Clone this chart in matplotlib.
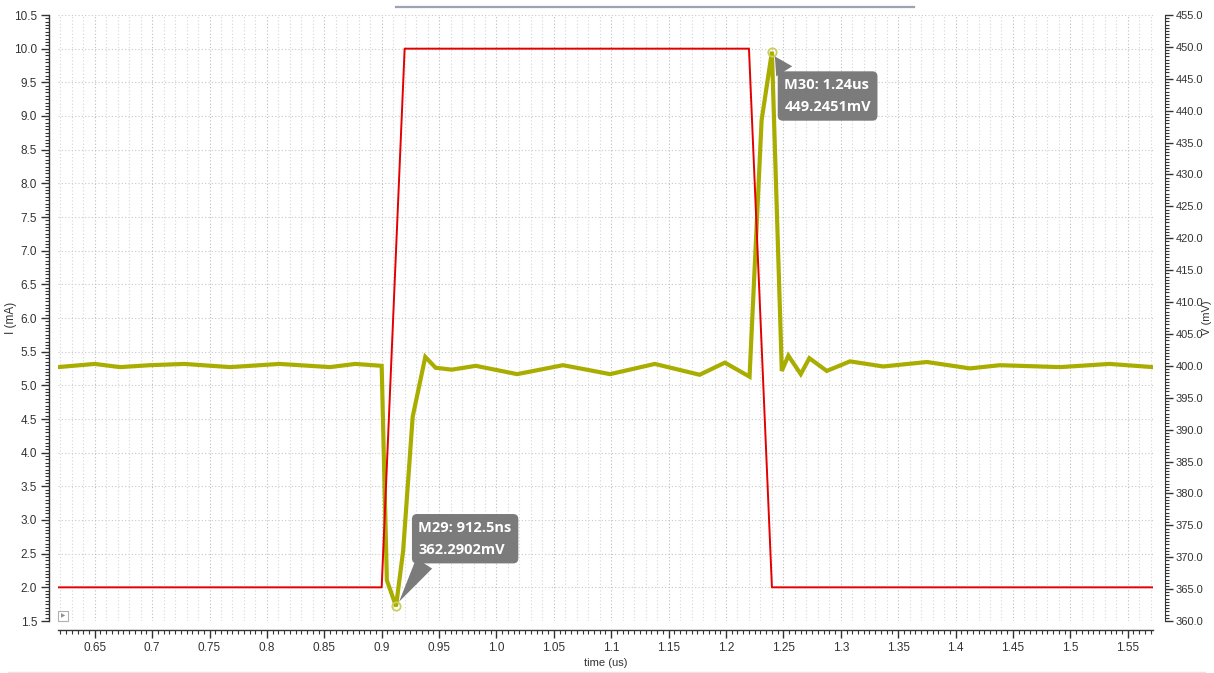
import matplotlib
matplotlib.use("Agg")
import matplotlib.pyplot as plt
import matplotlib.ticker as mticker
from matplotlib.lines import Line2D
from matplotlib.patches import Rectangle

plt.rcParams['font.family'] = ['Liberation Sans', 'DejaVu Sans']

# current pulse (mA) vs time (us)
t_current = [0.618, 0.900, 0.920, 1.220, 1.240, 1.572]
i_ma = [2.0, 2.0, 10.0, 10.0, 2.0, 2.0]

# voltage (mV) vs time (us)
t_voltage = [0.618, 0.650, 0.672, 0.698, 0.728, 0.768, 0.811, 0.855, 0.877, 0.900,
             0.9045, 0.9125, 0.9187, 0.927, 0.938, 0.947, 0.961, 0.982, 1.018, 1.058,
             1.099, 1.138, 1.177, 1.199, 1.2205, 1.231, 1.240, 1.2486, 1.2543, 1.2651,
             1.2726, 1.2878, 1.308, 1.337, 1.375, 1.4125, 1.4386, 1.491, 1.534, 1.572]
v_mv = [399.8, 400.3, 399.8, 400.1, 400.3, 399.8, 400.3, 399.8, 400.3, 400.0,
        366.4, 362.2902, 371.0, 392.0, 401.4, 399.7, 399.4, 400.0, 398.7, 400.1,
        398.7, 400.3, 398.6, 400.5, 398.3, 438.5, 449.2451, 399.2, 401.6, 398.7,
        401.2, 399.2, 400.7, 399.9, 400.6, 399.6, 400.1, 399.8, 400.3, 399.8]

# markers
marker_t = [0.9125, 1.24]
marker_v = [362.2902, 449.2451]
marker_text = ['M29: 912.5ns\n362.2902mV', 'M30: 1.24us\n449.2451mV']
marker_box_pos = [(0.9727, 372.9), (1.2885, 442.3)]
marker_relpos = [(0.12, 0.05), (0.06, 0.95)]

W, H = 1214, 673
fig = plt.figure(figsize=(W / 100, H / 100), dpi=100)
ax = fig.add_axes([58 / W, 1 - 621 / H, (1153 - 58) / W, (621 - 15) / H])
ax2 = ax.twinx()

tick_col = '#333333'
grid_col = '#c8c8c8'

# current axis (left)
ax.set_xlim(0.618, 1.572)
ax.set_ylim(1.5, 10.5)
ax.xaxis.set_major_locator(mticker.MultipleLocator(0.05))
ax.xaxis.set_minor_locator(mticker.MultipleLocator(0.005))
ax.yaxis.set_major_locator(mticker.MultipleLocator(0.5))
ax.yaxis.set_minor_locator(mticker.MultipleLocator(0.05))
ax.yaxis.set_major_formatter(mticker.FormatStrFormatter('%.1f'))


def fmt_x(v, pos):
    s = f"{v:.2f}".rstrip('0')
    if s.endswith('.'):
        s += '0'
    return s


ax.xaxis.set_major_formatter(mticker.FuncFormatter(fmt_x))

for s in ['top', 'right']:
    ax.spines[s].set_visible(False)
ax.spines['left'].set_position(('outward', 6.5))
ax.spines['bottom'].set_position(('outward', 6.5))
for s in ['left', 'bottom']:
    ax.spines[s].set_color(tick_col)
    ax.spines[s].set_linewidth(1.0)

ax.tick_params(axis='both', which='major', direction='out', length=6, width=1,
               colors=tick_col, labelsize=8.5, pad=2.5)
ax.tick_params(axis='both', which='minor', direction='out', length=3, width=0.8,
               colors=tick_col)

# grid: horizontal at each 0.5 mA, vertical every 0.01 us
for y in [1.5 + 0.5 * k for k in range(19)]:
    ax.axhline(y, color=grid_col, lw=0.8, ls=(0, (1, 2)), zorder=0)
for k in range(62, 158):
    x = k / 100
    ax.axvline(x, color='#bdbdbd' if k % 5 == 0 else '#d6d6d6', lw=0.8,
               ls=(0, (1, 2)), zorder=0)

ax.set_xlabel('time (us)', fontsize=8, color=tick_col, labelpad=3)
ax.set_ylabel('I (mA)', fontsize=8.5, color=tick_col)
ax.yaxis.set_label_coords(-0.0375, 0.5)

# voltage axis (right)
ax2.set_ylim(360, 455)
ax2.yaxis.set_major_locator(mticker.MultipleLocator(5))
ax2.yaxis.set_minor_locator(mticker.MultipleLocator(0.5))
ax2.yaxis.set_major_formatter(mticker.FormatStrFormatter('%.1f'))
for s in ['top', 'left', 'bottom']:
    ax2.spines[s].set_visible(False)
ax2.spines['right'].set_position(('outward', 8.6))
ax2.spines['right'].set_color(tick_col)
ax2.tick_params(axis='y', which='major', direction='out', length=6, width=1,
                colors=tick_col, labelsize=8, pad=1.5)
ax2.tick_params(axis='y', which='minor', direction='out', length=3, width=0.8,
                colors=tick_col)
ax2.set_ylabel('V (mV)', fontsize=8, color=tick_col, rotation=90)
ax2.yaxis.set_label_coords(1.0445, 0.5)

# traces
ax2.plot(t_voltage, v_mv, color='#a9ad00', lw=3.0, solid_joinstyle='miter',
         zorder=2)
ax2.plot(t_current, i_ma, color='#e30000', lw=1.4, transform=ax.transData,
         zorder=3)
ax2.set_xlim(0.618, 1.572)
ax2.set_ylim(360, 455)

ax2.plot(marker_t, marker_v, ls='none', marker='o', ms=6, mfc='none',
         mec='#c9cf5a', mew=1.3, zorder=4)

for (mt, mv, txt, pos, rp) in zip(marker_t, marker_v, marker_text,
                                  marker_box_pos, marker_relpos):
    ax2.annotate(txt, xy=(mt, mv), xytext=pos, ha='center', va='center',
                 multialignment='left', fontsize=10.5, fontweight='bold',
                 color='white', linespacing=1.75,
                 family=['Open Sans', 'DejaVu Sans'],
                 bbox=dict(boxstyle='round,pad=0.45,rounding_size=0.35',
                           fc='#7b7b7b', ec='none'),
                 arrowprops=dict(arrowstyle='wedge,tail_width=1.3',
                                 fc='#7b7b7b', ec='none', relpos=rp,
                                 shrinkA=0, shrinkB=4),
                 zorder=5)

# small play button in lower-left corner
ax.add_patch(Rectangle((0.0, 0.0), 0.0095, 0.017, transform=ax.transAxes,
                       fc='white', ec='#b0b0b0', lw=0.8, zorder=5,
                       clip_on=False))
ax.text(0.0048, 0.0085, '\u25b6', transform=ax.transAxes, fontsize=4,
        color='#909090', ha='center', va='center', zorder=6,
        family=['DejaVu Sans'])

# scrollbar on top and faint bottom border
fig.add_artist(Line2D([396 / W, 914 / W], [1 - 7 / H, 1 - 7 / H],
                      color='#9ea2b2', lw=1.6))
fig.add_artist(Line2D([8 / W, 1205 / W], [1 - 671.5 / H, 1 - 671.5 / H],
                      color='#ebe0e3', lw=1.0))

fig.savefig('out.png', dpi=100)
